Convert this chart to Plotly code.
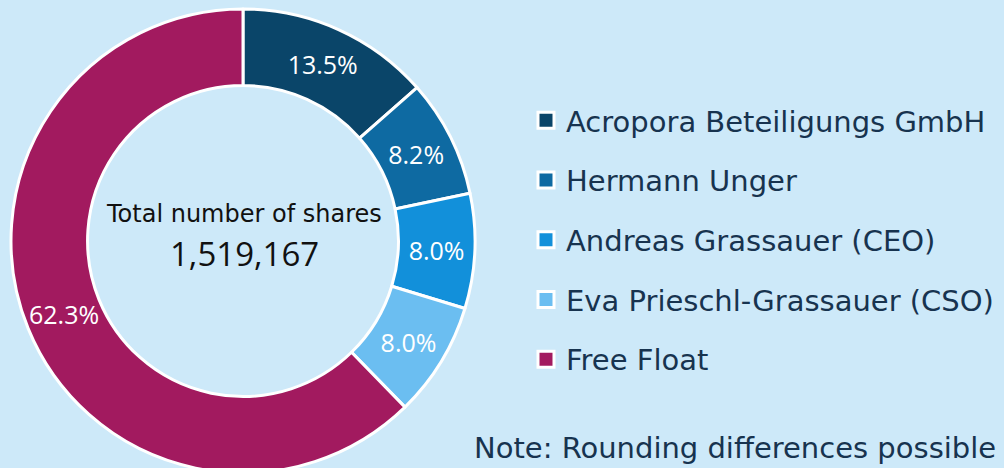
import math
import plotly.graph_objects as go

labels = ["Acropora Beteiligungs GmbH", "Hermann Unger", "Andreas Grassauer (CEO)",
          "Eva Prieschl-Grassauer (CSO)", "Free Float"]
shares_pct = [13.5, 8.2, 8.0, 8.0, 62.3]
colors = ["#0a4569", "#0e6aa2", "#1290da", "#6bbef1", "#a21a5f"]
total_label = "Total number of shares"
total_value = "1,519,167"
note_text = "Note: Rounding differences possible"

BG = "#cde9f9"
TXT = "#17334f"
WORD_FONT = "DejaVu Sans"
NUM_FONT = "Open Sans"

W, H = 1004, 476
TOP, BOTTOM = 9, 3
CX, R = 243, 232
HOLE = 0.67
CY = TOP + R

fig = go.Figure()

# Free Float label is placed at the slice mid-angle (computed from the data below)
templates = ["%{value:.1f}%"] * (len(labels) - 1) + [""]

fig.add_trace(go.Pie(
    labels=labels,
    values=shares_pct,
    sort=False,
    direction="clockwise",
    rotation=0,
    hole=HOLE,
    marker=dict(colors=colors, line=dict(color="white", width=3)),
    texttemplate=templates,
    textposition="inside",
    insidetextorientation="horizontal",
    textfont=dict(family=NUM_FONT, size=25, color="white"),
    domain=dict(x=[(CX - R) / W, (CX + R) / W], y=[0, 1]),
    showlegend=False,
    hoverinfo="label+percent",
))

# legend entries
for lab, col in zip(labels, colors):
    fig.add_trace(go.Scatter(
        x=[None], y=[None], mode="markers", name=lab, legendgroup=lab,
        marker=dict(symbol="square", size=16, color=col, line=dict(color="white", width=3)),
        showlegend=True, hoverinfo="skip",
    ))

# mid-angle label for the last slice, derived from the values
total = sum(shares_pct)
before = sum(shares_pct[:-1])
frac = (before + shares_pct[-1] / 2) / total
theta = 2 * math.pi * frac
rmid = R * (1 + HOLE) / 2
fig.add_annotation(x=CX + rmid * math.sin(theta), y=CY - rmid * math.cos(theta),
                   xref="x", yref="y", showarrow=False,
                   text=f"{shares_pct[-1]:.1f}%",
                   font=dict(family=NUM_FONT, size=25, color="white"))

fig.add_annotation(x=CX + 1, y=214, xref="x", yref="y", xanchor="center", text=total_label,
                   showarrow=False, font=dict(family=WORD_FONT, size=24, color="#111111"))
fig.add_annotation(x=CX + 1, y=253, xref="x", yref="y", xanchor="center", text=total_value,
                   showarrow=False, font=dict(family=NUM_FONT, size=33, color="#111111"))
fig.add_annotation(x=998, y=448, xref="x", yref="y", xanchor="right", text=note_text,
                   showarrow=False, font=dict(family=WORD_FONT, size=29, color=TXT))

fig.update_layout(
    width=W, height=H,
    paper_bgcolor=BG, plot_bgcolor="rgba(0,0,0,0)",
    margin=dict(l=0, r=0, t=TOP, b=BOTTOM),
    xaxis=dict(visible=False, range=[0, W]),
    yaxis=dict(visible=False, range=[H - BOTTOM, TOP]),
    uniformtext=dict(minsize=25, mode="show"),
    legend=dict(
        x=526 / W, y=1 - (95 - TOP) / (H - TOP - BOTTOM), xanchor="left", yanchor="top",
        font=dict(family=WORD_FONT, size=29, color=TXT),
        tracegroupgap=19, bgcolor="rgba(0,0,0,0)",
        itemsizing="trace",
    ),
    showlegend=True,
)

fig.write_html(
    "out.html",
    config={"displayModeBar": False},
    post_script="document.body.style.margin='0';"
                "document.body.style.overflow='hidden';"
                "document.documentElement.style.overflow='hidden';",
)
